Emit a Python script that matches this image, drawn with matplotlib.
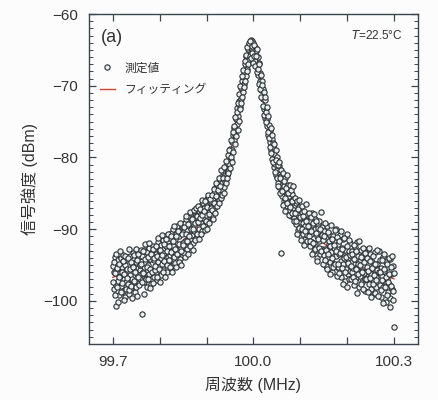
import numpy as np
import matplotlib
matplotlib.use("Agg")
import matplotlib.pyplot as plt
from matplotlib.ticker import FixedLocator, MultipleLocator

plt.rcParams['font.family'] = ['Liberation Sans', 'Noto Sans CJK JP', 'DejaVu Sans']

# ---- measured points: sweep 1 (401 points, 99.7 .. 100.3 MHz)
freq = np.linspace(99.7, 100.3, 401)
power = [
    -95.1, -98.4, -96.0, -93.9, -97.8, -100.7, -95.6, -94.3, -97.2, -99.1, -96.5, -94.0, -97.9, -95.2, -98.6, -93.6, -96.9, -99.4, -95.0, -97.3,
    -94.2, -97.6, -95.8, -99.0, -93.7, -96.4, -98.2, -94.9, -96.9, -93.3, -97.4, -95.1, -98.8, -94.6, -96.2, -99.3, -95.4, -93.9, -97.0, -95.7,
    -96.3, -93.8, -101.8, -95.9, -92.9, -97.4, -94.7, -96.8, -93.2, -98.1, -95.0, -92.6, -96.3, -94.1, -97.6, -93.5, -95.8, -92.4, -96.7, -94.3,
    -92.6, -95.9, -93.4, -97.1, -94.6, -91.8, -95.2, -93.0, -96.4, -92.2, -94.8, -91.5, -95.7, -93.3, -90.9, -94.5, -92.4, -96.0, -91.7, -93.9,
    -94.4, -91.2, -93.6, -90.5, -95.1, -92.3, -89.9, -93.8, -91.4, -94.7, -90.6, -92.9, -89.6, -93.4, -91.0, -94.2, -90.3, -92.6, -89.4, -92.0,
    -90.4, -93.3, -89.2, -91.7, -88.6, -92.8, -90.1, -88.2, -92.1, -89.5, -91.3, -87.8, -90.8, -88.9, -91.9, -87.5, -90.2, -88.4, -91.2, -89.0,
    -88.1, -90.6, -87.4, -89.9, -86.8, -89.1, -87.9, -90.2, -86.3, -88.5, -87.0, -89.4, -85.9, -88.0, -86.6, -89.0, -85.5, -87.6, -86.2, -88.3,
    -86.0, -88.1, -85.8, -87.4, -84.9, -86.9, -84.3, -86.2, -83.9, -85.6, -84.1, -85.9, -83.2, -84.8, -82.7, -84.5, -83.6, -82.0, -84.1, -82.4,
    -81.5, -83.0, -80.8, -82.4, -81.9, -79.7, -80.9, -78.8, -80.4, -77.9, -78.9, -76.8, -77.6, -75.9, -76.9, -74.6, -75.3, -73.1, -74.2, -72.1,
    -71.1, -72.9, -70.3, -71.8, -69.4, -70.9, -68.1, -69.8, -66.9, -68.6, -65.8, -67.7, -64.9, -66.4, -64.2, -65.6, -63.6, -64.8, -63.8, -65.0,
    -64.1, -65.6, -64.6, -66.5, -65.1, -67.4, -66.0, -68.5, -66.8, -69.4, -68.2, -70.6, -69.3, -71.9, -70.5, -73.2, -72.0, -74.5, -73.1, -75.6,
    -74.6, -76.9, -75.5, -77.8, -76.1, -79.0, -77.4, -80.2, -78.6, -81.3, -79.5, -80.9, -82.4, -80.0, -81.7, -83.5, -81.2, -84.1, -82.3, -93.3,
    -82.6, -85.4, -83.7, -86.1, -84.0, -82.9, -85.9, -84.5, -86.8, -83.8, -85.3, -87.3, -84.9, -86.2, -88.1, -85.1, -87.0, -85.9, -88.4, -86.6,
    -86.4, -89.3, -87.5, -90.1, -88.0, -86.9, -89.7, -88.4, -91.0, -87.6, -89.2, -90.6, -88.1, -91.4, -89.5, -87.9, -90.8, -89.0, -91.6, -88.7,
    -88.9, -92.3, -90.6, -87.7, -91.8, -89.4, -93.1, -90.0, -88.6, -92.5, -90.9, -94.0, -89.3, -91.6, -88.8, -93.4, -91.1, -89.7, -92.8, -90.4,
    -93.6, -90.3, -92.8, -95.1, -91.2, -89.6, -93.9, -92.1, -90.7, -94.6, -91.5, -93.2, -96.0, -90.9, -92.6, -94.9, -91.8, -89.9, -93.7, -95.3,
    -92.0, -95.2, -93.5, -90.8, -94.4, -96.7, -92.6, -94.9, -91.4, -93.8, -97.2, -92.9, -95.6, -90.6, -94.1, -96.3, -93.0, -95.8, -91.9, -94.5,
    -96.0, -93.1, -95.4, -97.8, -92.5, -94.9, -96.8, -91.8, -95.2, -93.7, -98.1, -94.4, -96.5, -92.9, -95.8, -97.3, -93.6, -96.1, -94.2, -98.6,
    -94.1, -96.9, -95.3, -92.8, -97.6, -95.9, -93.4, -98.4, -96.2, -94.6, -97.1, -99.0, -95.0, -93.2, -96.7, -98.0, -94.8, -97.4, -95.6, -93.0,
    -97.8, -95.4, -99.4, -96.5, -93.9, -98.0, -95.8, -97.2, -100.1, -94.6, -96.9, -98.8, -95.3, -97.6, -94.2, -99.6, -96.2, -98.3, -95.1, -99.9,
    -103.6,
]

# ---- measured points: sweep 2 (400 points, half a step offset)
freq2 = (freq[:-1] + freq[1:]) / 2
power2 = [
    -97.4, -94.6, -99.2, -96.1, -93.4, -98.0, -95.4, -100.2, -94.8, -96.7, -93.1, -98.7, -95.9, -97.5, -94.4, -99.8, -96.3, -93.8, -98.3, -95.5,
    -96.8, -94.0, -98.5, -92.8, -95.6, -97.9, -94.5, -99.6, -95.2, -93.6, -97.2, -95.9, -92.7, -98.1, -94.3, -96.6, -93.5, -97.8, -95.0, -92.9,
    -94.9, -97.3, -93.0, -96.1, -99.0, -94.2, -92.1, -97.0, -95.3, -93.9, -96.9, -91.9, -95.5, -98.2, -93.4, -96.0, -92.8, -97.5, -94.0, -95.7,
    -95.1, -92.3, -96.7, -93.8, -91.2, -95.5, -92.9, -97.3, -94.0, -90.8, -93.6, -95.9, -92.0, -94.4, -96.6, -91.4, -93.1, -95.0, -90.6, -94.3,
    -92.4, -95.3, -90.9, -93.2, -96.0, -91.6, -93.9, -89.5, -92.8, -95.2, -91.0, -93.5, -90.2, -94.6, -92.1, -89.1, -93.0, -95.0, -90.7, -91.9,
    -92.2, -89.7, -93.9, -90.6, -88.1, -91.6, -93.4, -89.3, -91.0, -87.6, -92.4, -90.0, -88.6, -92.9, -89.9, -87.3, -91.5, -89.2, -87.0, -90.7,
    -89.0, -86.7, -91.3, -88.5, -87.2, -90.7, -88.0, -85.9, -89.6, -87.5, -90.1, -86.1, -88.8, -86.9, -89.9, -85.2, -87.9, -89.2, -85.8, -87.1,
    -87.3, -85.2, -88.6, -86.4, -84.4, -87.8, -85.4, -83.5, -86.8, -84.6, -82.9, -86.3, -84.0, -85.6, -81.8, -85.2, -82.8, -84.9, -81.3, -83.4,
    -83.6, -80.5, -82.9, -79.6, -82.2, -78.9, -81.4, -80.0, -77.6, -80.6, -76.5, -79.3, -75.6, -78.1, -74.4, -77.0, -73.6, -76.1, -72.4, -74.9,
    -73.3, -70.1, -72.4, -68.7, -71.6, -67.8, -70.2, -66.5, -69.3, -65.7, -67.9, -64.6, -66.9, -64.0, -65.9, -63.7, -66.2, -64.4, -65.4, -66.8,
    -65.9, -64.3, -67.2, -65.8, -68.1, -64.9, -67.6, -69.7, -67.0, -70.4, -68.5, -71.5, -69.9, -72.8, -70.9, -74.1, -71.6, -73.6, -75.0, -72.9,
    -76.5, -74.2, -77.3, -78.5, -75.9, -79.4, -76.8, -78.0, -80.6, -78.1, -82.0, -80.3, -78.9, -82.8, -81.1, -84.0, -80.6, -82.9, -85.0, -81.8,
    -84.7, -82.1, -86.6, -83.3, -85.7, -87.4, -84.2, -82.5, -86.4, -85.0, -88.0, -83.9, -86.9, -84.6, -87.8, -86.1, -84.0, -88.9, -85.6, -87.7,
    -88.8, -86.1, -90.6, -87.2, -85.9, -89.8, -88.3, -91.5, -86.8, -89.9, -88.1, -92.2, -87.4, -90.3, -88.9, -86.5, -91.7, -89.6, -87.8, -90.9,
    -91.6, -88.3, -90.2, -93.5, -89.1, -91.9, -87.9, -92.8, -90.5, -88.9, -94.4, -91.3, -89.8, -92.6, -90.0, -87.6, -93.0, -90.8, -94.9, -91.5,
    -91.0, -94.3, -89.2, -92.9, -95.6, -90.4, -93.4, -91.7, -96.3, -92.4, -89.4, -94.0, -91.3, -95.2, -92.2, -90.1, -94.8, -93.0, -91.1, -96.5,
    -94.8, -91.7, -96.1, -93.3, -90.3, -95.4, -92.8, -97.6, -94.0, -91.2, -95.9, -93.9, -98.0, -92.3, -94.7, -96.9, -91.5, -93.6, -97.0, -95.1,
    -93.4, -96.6, -94.1, -92.2, -97.2, -95.5, -93.0, -98.9, -94.8, -96.3, -91.7, -95.0, -97.7, -93.9, -96.0, -92.6, -98.3, -94.6, -96.9, -93.3,
    -97.0, -94.0, -98.7, -95.8, -92.6, -96.8, -94.4, -99.5, -95.4, -97.7, -93.8, -96.4, -98.9, -94.9, -97.1, -92.9, -95.7, -99.3, -96.0, -94.3,
    -95.9, -98.5, -94.3, -97.1, -100.3, -95.5, -93.4, -98.1, -96.7, -94.9, -99.2, -97.4, -94.0, -96.3, -100.8, -95.2, -97.9, -93.7, -98.6, -96.1,
]

# ---- fitted curve
fit_freq = [99.70, 99.72, 99.74, 99.76, 99.78, 99.80, 99.82, 99.84, 99.86, 99.88,
            99.90, 99.91, 99.92, 99.93, 99.94, 99.95, 99.96, 99.97, 99.98, 99.99,
            99.996, 100.00, 100.01, 100.02, 100.03, 100.04, 100.05, 100.06, 100.07, 100.08,
            100.10, 100.12, 100.14, 100.16, 100.18, 100.20, 100.22, 100.24, 100.26, 100.28, 100.30]
fit_power = [-96.7, -96.3, -95.8, -95.2, -94.6, -93.8, -93.0, -92.1, -91.0, -89.6,
             -88.1, -87.1, -85.9, -84.3, -82.3, -79.8, -76.2, -72.0, -68.2, -64.9,
             -63.9, -64.5, -67.4, -71.2, -75.4, -79.2, -81.9, -83.9, -85.6, -86.9,
             -88.7, -90.2, -91.4, -92.5, -93.4, -94.2, -94.9, -95.5, -96.0, -96.5, -96.9]

xticks_major = [99.7, 100.0, 100.3]
xticks_minor = [99.8, 99.9, 100.1, 100.2]
yticks = [-100, -90, -80, -70, -60]

all_f = np.concatenate([freq, freq2])
all_p = np.concatenate([power, power2])

fig = plt.figure(figsize=(4.38, 4.0), dpi=100)
fig.patch.set_facecolor('#fcfcfc')
ax = fig.add_axes([0.203, 0.14, 0.751, 0.825])
ax.set_facecolor('#fcfcfc')

ax.plot(fit_freq, fit_power, color='#d2402e', lw=1.0, zorder=2, label='フィッティング')
ax.plot(all_f, all_p, ls='none', marker='o', ms=3.8, mew=0.8,
        mec='#2a2f33', mfc='#e9eff0', zorder=3, label='測定値')

ax.set_xlim(99.649, 100.351)
ax.set_ylim(-106, -60)

ax.xaxis.set_major_locator(FixedLocator(xticks_major))
ax.xaxis.set_minor_locator(FixedLocator(xticks_minor))
ax.set_xticklabels(['99.7', '100.0', '100.3'])
ax.yaxis.set_major_locator(FixedLocator(yticks))
ax.yaxis.set_minor_locator(MultipleLocator(1))
ax.set_yticklabels(['\u2212100', '\u221290', '\u221280', '\u221270', '\u221260'])

ax.tick_params(which='both', direction='in', top=True, right=True,
               color='#3a4550', labelsize=11, labelcolor='#333333')
ax.tick_params(which='major', length=5, width=0.9, pad=8)
ax.tick_params(which='minor', length=3, width=0.7)
ax.tick_params(axis='x', which='minor', length=5, width=0.9)
for s in ax.spines.values():
    s.set_color('#3a4550')
    s.set_linewidth(1.0)

ax.set_xlabel('周波数 (MHz)', fontsize=11.5, color='#333333', labelpad=6)
ax.set_ylabel('信号強度 (dBm)', fontsize=11.5, color='#333333', labelpad=4)

ax.text(0.035, 0.915, '(a)', transform=ax.transAxes, fontsize=13, color='#333333')
ax.text(0.955, 0.955, r'$\it{T}$=22.5°C', transform=ax.transAxes, fontsize=8.5,
        ha='right', va='top', color='#333333')

h, l = ax.get_legend_handles_labels()
ax.legend(h[::-1], l[::-1], loc='upper left', bbox_to_anchor=(0.0, 0.885),
          frameon=False, fontsize=8.5, handlelength=1.3, handletextpad=0.8,
          labelspacing=0.8, labelcolor='#333333')

fig.savefig('out.png', dpi=100, facecolor=fig.get_facecolor())
